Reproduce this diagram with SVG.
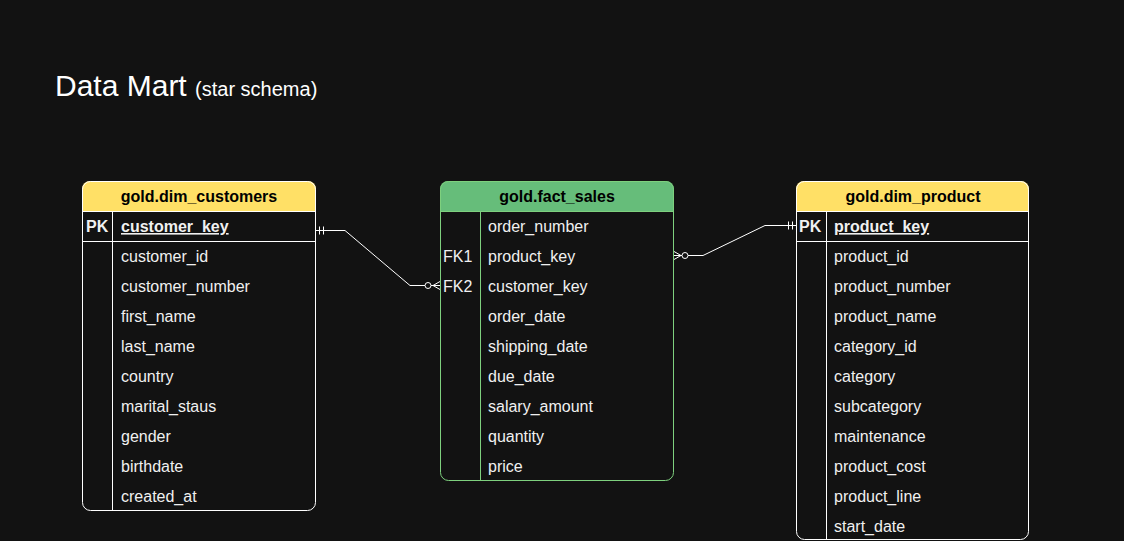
<svg xmlns="http://www.w3.org/2000/svg" width="1124" height="541" viewBox="0 0 1124 541">
<style>
  text { font-family: "Liberation Sans", Arial, sans-serif; }
  .title { font-size: 30px; fill: #ffffff; }
  .sub { font-size: 20px; fill: #ffffff; }
  .hdr { font-size: 16px; font-weight: bold; fill: #000000; text-anchor: middle; }
  .row { font-size: 16px; fill: #f0f0f0; }
  .key { font-size: 16px; fill: #f0f0f0; font-weight: bold; text-decoration: underline; }
  .pk { font-size: 16px; fill: #f0f0f0; font-weight: bold; }
  .fk { font-size: 16px; fill: #f0f0f0; }
  .wline { stroke: #ffffff; stroke-width: 1; fill: none; }
  .gline { stroke: #7ed07e; stroke-width: 1; fill: none; }
  .conn { stroke: #ffffff; stroke-width: 1; fill: none; }
</style>
<rect x="0" y="0" width="1124" height="541" fill="#121212"/>
<text class="title" x="55" y="96">Data Mart <tspan class="sub">(star schema)</tspan></text>

<g id="dim_customers">
  <path d="M82,211 V189 a8,8 0 0 1 8,-8 H308 a8,8 0 0 1 8,8 V211 Z" fill="#ffe066"/>
  <rect x="82.5" y="181.5" width="233" height="329" rx="8" class="wline"/>
  <line x1="82" y1="211.5" x2="316" y2="211.5" class="wline"/>
  <line x1="82" y1="241.5" x2="316" y2="241.5" class="wline"/>
  <line x1="112.5" y1="211" x2="112.5" y2="511" class="wline"/>
  <text class="hdr" x="199" y="202">gold.dim_customers</text>
  <text class="pk" x="86" y="232">PK</text>
  <text class="key" x="121" y="232">customer_key</text>
  <text class="row" x="121" y="262">customer_id</text>
  <text class="row" x="121" y="292">customer_number</text>
  <text class="row" x="121" y="322">first_name</text>
  <text class="row" x="121" y="352">last_name</text>
  <text class="row" x="121" y="382">country</text>
  <text class="row" x="121" y="412">marital_staus</text>
  <text class="row" x="121" y="442">gender</text>
  <text class="row" x="121" y="472">birthdate</text>
  <text class="row" x="121" y="502">created_at</text>
</g>

<g id="fact_sales">
  <path d="M440,211 V189 a8,8 0 0 1 8,-8 H666 a8,8 0 0 1 8,8 V211 Z" fill="#66bd7a"/>
  <rect x="440.5" y="181.5" width="233" height="299" rx="8" class="gline"/>
  <line x1="440" y1="211.5" x2="674" y2="211.5" class="gline"/>
  <line x1="480.5" y1="211" x2="480.5" y2="481" class="gline"/>
  <text class="hdr" x="557" y="202">gold.fact_sales</text>
  <text class="row" x="488" y="232">order_number</text>
  <text class="fk" x="443" y="262">FK1</text>
  <text class="row" x="488" y="262">product_key</text>
  <text class="fk" x="443" y="292">FK2</text>
  <text class="row" x="488" y="292">customer_key</text>
  <text class="row" x="488" y="322">order_date</text>
  <text class="row" x="488" y="352">shipping_date</text>
  <text class="row" x="488" y="382">due_date</text>
  <text class="row" x="488" y="412">salary_amount</text>
  <text class="row" x="488" y="442">quantity</text>
  <text class="row" x="488" y="472">price</text>
</g>

<g id="dim_product">
  <path d="M796,211 V189 a8,8 0 0 1 8,-8 H1021 a8,8 0 0 1 8,8 V211 Z" fill="#ffe066"/>
  <rect x="796.5" y="181.5" width="232" height="358" rx="8" class="wline"/>
  <line x1="796" y1="211.5" x2="1029" y2="211.5" class="wline"/>
  <line x1="796" y1="241.5" x2="1029" y2="241.5" class="wline"/>
  <line x1="826.5" y1="211" x2="826.5" y2="540" class="wline"/>
  <text class="hdr" x="913" y="202">gold.dim_product</text>
  <text class="pk" x="799" y="232">PK</text>
  <text class="key" x="834" y="232">product_key</text>
  <text class="row" x="834" y="262">product_id</text>
  <text class="row" x="834" y="292">product_number</text>
  <text class="row" x="834" y="322">product_name</text>
  <text class="row" x="834" y="352">category_id</text>
  <text class="row" x="834" y="382">category</text>
  <text class="row" x="834" y="412">subcategory</text>
  <text class="row" x="834" y="442">maintenance</text>
  <text class="row" x="834" y="472">product_cost</text>
  <text class="row" x="834" y="502">product_line</text>
  <text class="row" x="834" y="532">start_date</text>
</g>

<g id="connectors">
  <!-- customers PK to fact FK2 -->
  <path class="conn" d="M316,230.5 H345 L410,285.5 H425"/>
  <line class="conn" x1="319.5" y1="226.5" x2="319.5" y2="234.5"/>
  <line class="conn" x1="323.5" y1="226.5" x2="323.5" y2="234.5"/>
  <circle class="conn" cx="428" cy="285.5" r="3"/>
  <path class="conn" d="M431,285.5 H440 M433,285.5 L440,281.5 M433,285.5 L440,289.5"/>
  <!-- product PK to fact FK1 -->
  <path class="conn" d="M796,225.5 H765 L703,255.5 H688"/>
  <line class="conn" x1="788.5" y1="221.5" x2="788.5" y2="229.5"/>
  <line class="conn" x1="792.5" y1="221.5" x2="792.5" y2="229.5"/>
  <circle class="conn" cx="685" cy="255.5" r="3"/>
  <path class="conn" d="M682,255.5 H674 M681,255.5 L674,251.5 M681,255.5 L674,259.5"/>
</g>
</svg>
